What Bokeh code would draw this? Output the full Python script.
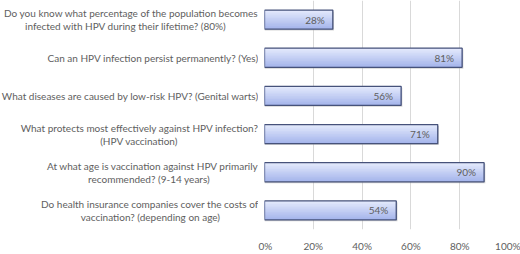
from bokeh.plotting import figure
from bokeh.models import Range1d, FixedTicker, ColumnDataSource
from bokeh.layouts import row
from bokeh.transform import dodge
from bokeh.embed import file_html
from bokeh.resources import INLINE
from bokeh.core.properties import value

questions = [
    "Do you know what percentage of the population becomes\ninfected with HPV during their lifetime? (80%)",
    "Can an HPV infection persist permanently? (Yes)",
    "What diseases are caused by low-risk HPV? (Genital warts)",
    "What protects most effectively against HPV infection?\n(HPV vaccination)",
    "At what age is vaccination against HPV primarily\nrecommended? (9-14 years)",
    "Do health insurance companies cover the costs of\nvaccination? (depending on age)",
]
percent = [28, 81, 56, 71, 90, 54]
tick_values = [0, 20, 40, 60, 80, 100]
tick_labels = ["0%", "20%", "40%", "60%", "80%", "100%"]

FONT = "Lato"
GREY = "#5e5e5e"

# approximate rendered widths (px, Lato 10px) of the two lines of wrapped labels,
# used to centre the second line under the first one (Excel-style wrapping)
first_line_px = [252, 0, 0, 235, 210, 215]
second_line_px = [188, 0, 0, 74, 113, 138]

src = ColumnDataSource(dict(q=questions, v=percent,
                            lab=[f"{v}%" for v in percent],
                            vs=[v + 0.5 for v in percent]))
factors = list(reversed(questions))

l_q, l_t, l_xo, l_yo = [], [], [], []
for q, w1, w2 in zip(questions, first_line_px, second_line_px):
    parts = q.split("\n")
    if len(parts) == 1:
        l_q.append(q); l_t.append(parts[0]); l_xo.append(0); l_yo.append(0)
    else:
        l_q.append(q); l_t.append(parts[0]); l_xo.append(0); l_yo.append(-6.5)
        l_q.append(q); l_t.append(parts[1]); l_xo.append(-(w1 - w2) / 2); l_yo.append(6.5)
lsrc = ColumnDataSource(dict(q=l_q, t=l_t, xo=l_xo, yo=l_yo))

# ---- label panel ----
lp = figure(width=258, height=254, y_range=factors, x_range=Range1d(0, 1),
            output_backend="svg", toolbar_location=None,
            min_border_left=0, min_border_right=0, min_border_top=0,
            min_border_bottom=17)
lp.axis.visible = False
lp.grid.grid_line_color = None
lp.outline_line_color = None
lp.text(x=1, y="q", text="t", source=lsrc, x_offset="xo", y_offset="yo",
        text_align="right", text_baseline="middle",
        text_font=value(FONT), text_font_size="10px", text_color=GREY)

# ---- bar panel ----
p = figure(width=262, height=254, y_range=lp.y_range,
           x_range=Range1d(0, 100), output_backend="svg", toolbar_location=None,
           min_border_left=6, min_border_right=12, min_border_top=0,
           min_border_bottom=17)
p.outline_line_color = None
p.yaxis.visible = False

H = 0.5
p.hbar(y=dodge("q", -0.035, range=p.y_range), left=0, right="vs", height=H,
       source=src, fill_color="#a0a0a0", fill_alpha=0.45, line_color=None)
n = 12
c0 = (0xa6, 0xb6, 0xec)
c1 = (0xe3, 0xe9, 0xfc)
for i in range(n):
    t = i / (n - 1)
    col = "#%02x%02x%02x" % tuple(int(a + (b - a) * t) for a, b in zip(c0, c1))
    hk = H * (1 - i / n)
    p.hbar(y=dodge("q", (H - hk) / 2, range=p.y_range), left=0, right="v",
           height=hk, source=src, fill_color=col, line_color=None)
p.hbar(y="q", left=0, right="v", height=H, source=src, fill_color=None,
       line_color="#46527a", line_width=1.3)

p.text(x="v", y="q", text="lab", source=src, x_offset=-8, text_align="right",
       text_baseline="middle", text_font=value(FONT), text_font_size="10px",
       text_color=GREY)

p.xaxis.ticker = FixedTicker(ticks=tick_values)
p.xaxis.major_label_overrides = {v: l for v, l in zip(tick_values, tick_labels)}
p.xaxis.axis_line_color = None
p.xaxis.major_tick_line_color = None
p.xaxis.minor_tick_line_color = None
p.xaxis.major_label_standoff = 4
p.xaxis.major_label_text_font = FONT
p.xaxis.major_label_text_font_size = "10px"
p.xaxis.major_label_text_color = GREY

p.ygrid.grid_line_color = None
p.xgrid.grid_line_color = "#d9d9d9"

layout = row(lp, p)
open("out.html", "w").write(file_html(layout, INLINE))
